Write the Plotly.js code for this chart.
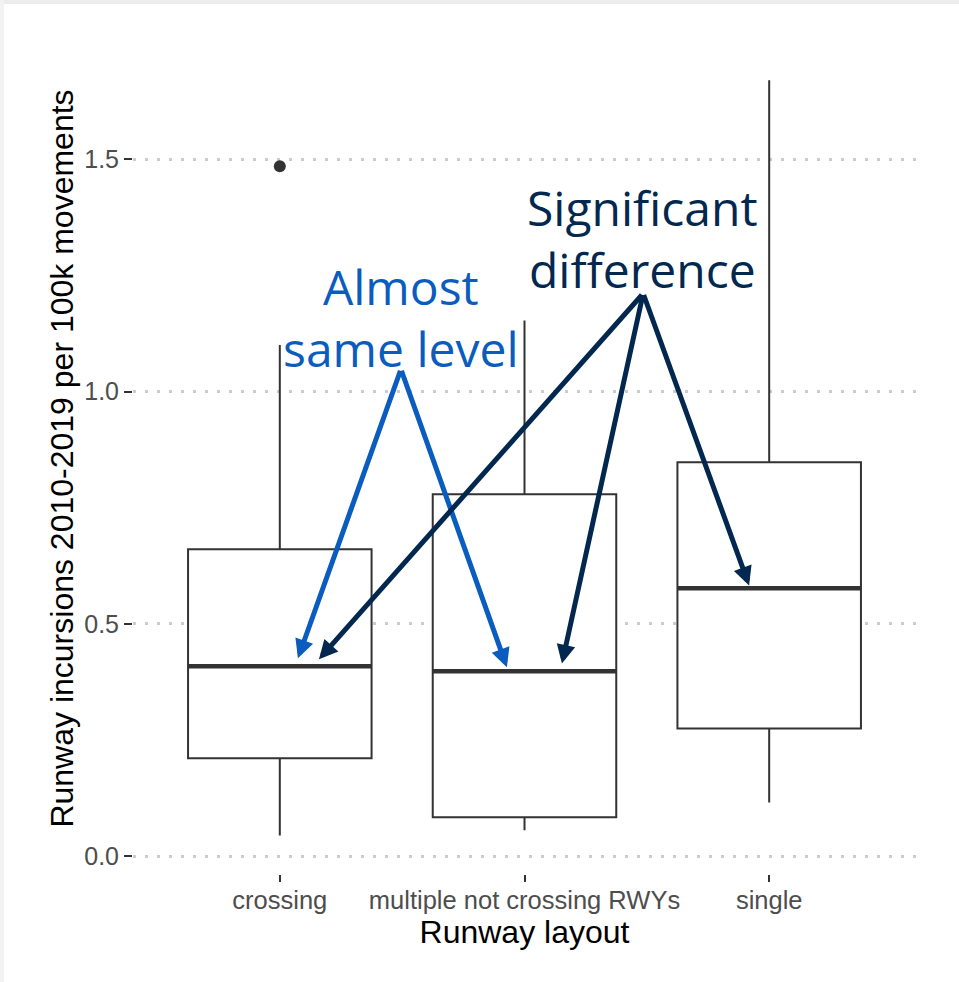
<!DOCTYPE html>
<html>
<head>
<meta charset="utf-8">
<script src="https://cdn.plot.ly/plotly-3.0.1.min.js"></script>
<style>
  html, body { margin: 0; padding: 0; background: #ffffff; }
  #wrap { position: relative; width: 959px; height: 982px; }
  #chart { position: absolute; left: 0; top: 0; width: 959px; height: 982px; }
  .edge-top { position: absolute; left: 0; top: 0; width: 959px; height: 4px; background: #ececec; z-index: 2; }
  .edge-left { position: absolute; left: 0; top: 0; width: 4px; height: 982px; background: #f2f2f2; z-index: 2; }
</style>
</head>
<body>
<div id="wrap">
  <div id="chart"></div>
  <div class="edge-top"></div>
  <div class="edge-left"></div>
</div>
<script>
// Runway incursions 2010-2019 per 100k movements, by runway layout
const categories = ["crossing", "multiple not crossing RWYs", "single"];
const lowerWhisker = [0.045, 0.056, 0.116];
const q1 = [0.211, 0.084, 0.275];
const median = [0.409, 0.398, 0.577];
const q3 = [0.661, 0.779, 0.848];
const upperWhisker = [1.10, 1.153, 1.67];
const outlierCategory = [0];
const outlierValue = [1.485];

const yTickValues = [0, 0.5, 1.0, 1.5];

const positions = categories.map((c, i) => i);
const boxWidth = 0.75;
const ink = "#333333";

const boxTrace = {
  type: "box",
  x: positions,
  q1: q1,
  median: median,
  q3: q3,
  lowerfence: lowerWhisker,
  upperfence: upperWhisker,
  width: boxWidth,
  whiskerwidth: 0,
  fillcolor: "#ffffff",
  line: { color: ink, width: 2 },
  boxpoints: false,
  hoverinfo: "skip",
  showlegend: false
};

// thicker median bars, like ggplot's fattened median
const medianX = [];
const medianY = [];
positions.forEach((p, i) => {
  medianX.push(p - boxWidth / 2, p + boxWidth / 2, null);
  medianY.push(median[i], median[i], null);
});
const medianTrace = {
  type: "scatter",
  mode: "lines",
  x: medianX,
  y: medianY,
  line: { color: ink, width: 4.5 },
  hoverinfo: "skip",
  showlegend: false
};

const outlierTrace = {
  type: "scatter",
  mode: "markers",
  x: outlierCategory,
  y: outlierValue,
  marker: { color: ink, size: 12 },
  hoverinfo: "skip",
  showlegend: false
};

const blue = "#0a5cbe";
const navy = "#03284f";
const noteFont = "Open Sans, Noto Sans, sans-serif";

function arrow(tipX, tipY, tailX, tailY, color) {
  return {
    x: tipX, y: tipY, xref: "x", yref: "y",
    ax: tailX, ay: tailY, axref: "x", ayref: "y",
    text: "", showarrow: true,
    arrowhead: 2, arrowsize: 0.75, arrowwidth: 5,
    arrowcolor: color, standoff: 0, startstandoff: 0
  };
}

function note(text, x, y, color) {
  return {
    text: text, x: x, y: y, xref: "x", yref: "y",
    showarrow: false, xanchor: "center", yanchor: "middle", align: "center",
    font: { family: noteFont, size: 48, color: color }
  };
}

const blueTail = [0.495, 1.048];
const navyTail = [1.485, 1.211];

const annotations = [
  note("Almost<br>same level", 0.495, 1.160, blue),
  note("Significant<br>difference", 1.483, 1.330, navy),
  arrow(0.074, median[0] + 0.017, blueTail[0], blueTail[1], blue),
  arrow(0.928, median[1] + 0.009, blueTail[0], blueTail[1], blue),
  arrow(0.16, median[0] + 0.015, navyTail[0], navyTail[1], navy),
  arrow(1.153, median[1] + 0.017, navyTail[0], navyTail[1], navy),
  arrow(1.918, median[2] + 0.006, navyTail[0], navyTail[1], navy)
];

const axisFont = "Liberation Sans, Arial, Helvetica, sans-serif";

const layout = {
  width: 959,
  height: 982,
  margin: { l: 133, r: 43, t: 43, b: 108 },
  paper_bgcolor: "#ffffff",
  plot_bgcolor: "#ffffff",
  font: { family: axisFont },
  xaxis: {
    range: [-0.6, 2.6],
    tickvals: positions,
    ticktext: categories,
    ticks: "outside",
    ticklen: 7,
    tickwidth: 2,
    tickcolor: ink,
    ticklabelstandoff: -4,
    tickfont: { family: axisFont, size: 25.5, color: "#4d4d4d" },
    showgrid: false,
    zeroline: false,
    showline: false,
    title: { text: "Runway layout", font: { family: axisFont, size: 32, color: "#000000" }, standoff: 6 }
  },
  yaxis: {
    range: [-0.038, 1.75],
    tickvals: yTickValues,
    tickformat: ".1f",
    ticks: "outside",
    ticklen: 8,
    tickwidth: 2,
    tickcolor: ink,
    tickfont: { family: axisFont, size: 25, color: "#4d4d4d" },
    showgrid: true,
    gridcolor: "#cccccc",
    gridwidth: 3,
    griddash: "3px,9px",
    zeroline: false,
    showline: false,
    title: { text: "Runway incursions 2010-2019 per 100k movements", font: { family: axisFont, size: 32, color: "#000000" }, standoff: 1 }
  },
  annotations: annotations
};

Plotly.newPlot("chart", [boxTrace, medianTrace, outlierTrace], layout, { displayModeBar: false, staticPlot: true });
</script>
</body>
</html>
